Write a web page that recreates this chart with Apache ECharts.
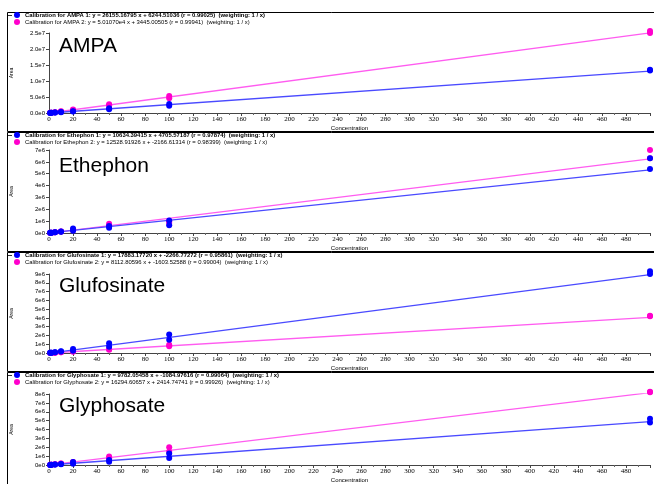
<!DOCTYPE html>
<html>
<head>
<meta charset="utf-8">
<style>
  html, body { margin: 0; padding: 0; background: #fff; }
  #chart-container { width: 654px; height: 484px; }
</style>
<script src="https://cdn.jsdelivr.net/npm/echarts@6/dist/echarts.min.js"></script>
</head>
<body>
<div id="chart-container"></div>
<script>
// concentration levels (x) and fit line ends
var levels = [1, 2, 5, 10, 20, 50, 100, 500];
var fitX = [0, 500];
var compounds = ['AMPA', 'Ethephon', 'Glufosinate', 'Glyphosate'];

var legend1 = [
  'Calibration for AMPA 1: y = 26155.16795 x + 6244.51036 (r = 0.99025)  (weighting: 1 / x)',
  'Calibration for Ethephon 1: y = 10634.39415 x + 4705.57187 (r = 0.97874)  (weighting: 1 / x)',
  'Calibration for Glufosinate 1: y = 17883.17720 x + -2266.77272 (r = 0.95861)  (weighting: 1 / x)',
  'Calibration for Glyphosate 1: y = 9782.05458 x + -1084.97616 (r = 0.99064)  (weighting: 1 / x)'
];
var legend2 = [
  'Calibration for AMPA 2: y = 5.01070e4 x + 3445.00505 (r = 0.99941)  (weighting: 1 / x)',
  'Calibration for Ethephon 2: y = 12528.91926 x + -2166.61314 (r = 0.98399)  (weighting: 1 / x)',
  'Calibration for Glufosinate 2: y = 8112.80596 x + -1603.52588 (r = 0.99004)  (weighting: 1 / x)',
  'Calibration for Glyphosate 2: y = 16294.60657 x + 2414.74741 (r = 0.99926)  (weighting: 1 / x)'
];

// replicate responses per level
var ampa1 = [[2.6e4, 3.4e4], [5.5e4, 6.0e4], [1.3e5, 1.4e5], [2.6e5, 2.9e5], [4.6e5, 5.6e5], [1.2e6, 1.45e6], [2.3e6, 2.8e6], [1.33e7, 1.35e7]];
var ampa2 = [[5.0e4, 5.6e4], [1.0e5, 1.1e5], [2.5e5, 2.7e5], [5.0e5, 5.4e5], [9.5e5, 1.1e6], [2.4e6, 2.7e6], [4.6e6, 5.3e6], [2.5e7, 2.56e7]];
var ethephon1 = [[1.2e4, 1.4e4], [2.3e4, 2.6e4], [5.5e4, 6.0e4], [1.1e5, 1.2e5], [2.0e5, 3.8e5], [4.5e5, 6.0e5], [6.5e5, 1.05e6], [5.4e6, 6.3e6]];
var ethephon2 = [[1.0e4, 1.2e4], [2.2e4, 2.5e4], [6.0e4, 6.4e4], [1.2e5, 1.3e5], [2.4e5, 3.0e5], [6.2e5, 7.8e5], [8.5e5, 1.0e6], [6.3e6, 7.0e6]];
var glufosinate1 = [[1.5e4, 1.8e4], [3.2e4, 3.6e4], [8.5e4, 9.0e4], [1.7e5, 1.9e5], [2.6e5, 4.6e5], [7.0e5, 1.1e6], [1.5e6, 2.1e6], [9.0e6, 9.3e6]];
var glufosinate2 = [[6.0e3, 7.0e3], [1.4e4, 1.6e4], [3.8e4, 4.0e4], [7.8e4, 8.2e4], [1.5e5, 2.0e5], [3.6e5, 4.4e5], [7.8e5, 9.4e5], [4.2e6, 4.25e6]];
var glyphosate1 = [[8.0e3, 9.5e3], [1.8e4, 2.0e4], [4.6e4, 5.0e4], [9.5e4, 1.0e5], [1.3e5, 3.3e5], [3.6e5, 5.6e5], [8.0e5, 1.3e6], [4.8e6, 5.2e6]];
var glyphosate2 = [[1.8e4, 2.0e4], [3.5e4, 3.8e4], [8.5e4, 9.0e4], [1.6e5, 1.7e5], [2.8e5, 3.4e5], [7.5e5, 9.5e5], [1.5e6, 2.0e6], [8.2e6, 8.25e6]];

// fitted line values at x = 0 and x = 500
var ampaFit1 = [6244, 1.308e7];
var ampaFit2 = [3445, 2.505e7];
var ethephonFit1 = [4706, 5.32e6];
var ethephonFit2 = [-2167, 6.26e6];
var glufosinateFit1 = [-2267, 8.94e6];
var glufosinateFit2 = [-1604, 4.055e6];
var glyphosateFit1 = [-1085, 4.89e6];
var glyphosateFit2 = [2415, 8.15e6];

var yMax = [2.5e7, 7e6, 9e6, 8e6];
var yStep = [5e6, 1e6, 1e6, 1e6];
var yDigits = [1, 0, 0, 0];

var set1 = [ampa1, ethephon1, glufosinate1, glyphosate1];
var set2 = [ampa2, ethephon2, glufosinate2, glyphosate2];
var fits1 = [ampaFit1, ethephonFit1, glufosinateFit1, glyphosateFit1];
var fits2 = [ampaFit2, ethephonFit2, glufosinateFit2, glyphosateFit2];

// layout
var gridTop = [33, 150, 274, 394];
var gridHeight = [80, 83, 79, 79];
var blue = '#0000ff';
var blueLine = '#4a4aff';
var pink = '#ff00cc';
var pinkLine = '#ff5cf0';

var dom = document.getElementById('chart-container');
var myChart = echarts.init(dom, null, {
  renderer: 'canvas',
  useDirtyRect: false
});

function points(reps) {
  var out = [];
  reps.forEach(function (vals, i) {
    vals.forEach(function (v) {
      out.push([levels[i], v]);
    });
  });
  return out;
}

function fitLine(f) {
  return fitX.map(function (x, i) { return [x, f[i]]; });
}

var grids = [], xAxes = [], yAxes = [], series = [], legends = [], titles = [], graphics = [];

compounds.forEach(function (name, k) {
  grids.push({ left: 49, right: 4, top: gridTop[k], height: gridHeight[k] });
  xAxes.push({
    gridIndex: k,
    type: 'value',
    min: 0,
    max: 500,
    interval: 20,
    name: 'Concentration',
    nameLocation: 'middle',
    nameGap: 12,
    nameTextStyle: { fontSize: 6, color: '#000', fontFamily: 'Liberation Sans' },
    axisLine: { lineStyle: { color: '#444', width: 1 } },
    axisTick: { length: 3, lineStyle: { color: '#444' } },
    minorTick: { show: true, splitNumber: 2, length: 2, lineStyle: { color: '#666' } },
    axisLabel: { fontSize: 7, fontFamily: 'Liberation Serif', color: '#000', margin: 3, showMaxLabel: false },
    splitLine: { show: false }
  });
  yAxes.push({
    gridIndex: k,
    type: 'value',
    min: 0,
    max: yMax[k],
    interval: yStep[k],
    name: 'Area',
    nameLocation: 'middle',
    nameRotate: 90,
    nameGap: 35,
    nameTextStyle: { fontSize: 5, color: '#000', fontFamily: 'Liberation Sans' },
    axisLine: { show: true, lineStyle: { color: '#444', width: 1 } },
    axisTick: { show: true, length: 3, lineStyle: { color: '#444' } },
    axisLabel: {
      fontSize: 6,
      fontFamily: 'Liberation Sans',
      color: '#000',
      margin: 4,
      formatter: function (v) { return v.toExponential(yDigits[k]).replace('+', ''); }
    },
    splitLine: { show: false }
  });

  series.push({
    name: legend2[k], type: 'line', xAxisIndex: k, yAxisIndex: k,
    data: fitLine(fits2[k]), showSymbol: false, silent: true, z: 1,
    lineStyle: { color: pinkLine, width: 1.3 }, itemStyle: { color: pink }
  });
  series.push({
    name: legend1[k], type: 'line', xAxisIndex: k, yAxisIndex: k,
    data: fitLine(fits1[k]), showSymbol: false, silent: true, z: 1,
    lineStyle: { color: blueLine, width: 1.3 }, itemStyle: { color: blue }
  });
  series.push({
    name: legend2[k], type: 'scatter', xAxisIndex: k, yAxisIndex: k,
    data: points(set2[k]), symbolSize: 6, clip: false, z: 3,
    itemStyle: { color: pink, opacity: 1 }
  });
  series.push({
    name: legend1[k], type: 'scatter', xAxisIndex: k, yAxisIndex: k,
    data: points(set1[k]), symbolSize: 6, clip: false, z: 4,
    itemStyle: { color: blue, opacity: 1 }
  });

  legends.push({
    data: [legend1[k], legend2[k]],
    orient: 'vertical',
    left: 14,
    top: 12 + 120 * k,
    padding: 0,
    itemGap: 1,
    itemWidth: 6,
    itemHeight: 6,
    icon: 'circle',
    selectedMode: false,
    formatter: function (n) { return n === legend1[k] ? '{b|' + n + '}' : n; },
    textStyle: {
      fontSize: 5.9,
      fontFamily: 'Liberation Sans',
      color: '#000',
      rich: { b: { fontSize: 5.9, fontWeight: 'bold', fontFamily: 'Liberation Sans', color: '#000' } }
    }
  });

  titles.push({
    text: name,
    left: 59,
    top: 36 + 120 * k,
    padding: 0,
    textStyle: { fontSize: 21, fontWeight: 'normal', fontFamily: 'Liberation Sans', color: '#000' }
  });

  // panel frame and collapse box
  graphics.push({
    type: 'rect', silent: true, z: -1,
    shape: { x: 7.5, y: 12.5 + 120 * k, width: 700, height: 119 },
    style: { fill: 'none', stroke: '#000', lineWidth: 1 }
  });
  graphics.push({
    type: 'line', silent: true,
    shape: { x1: 8, y1: 15.5 + 120 * k, x2: 12, y2: 15.5 + 120 * k },
    style: { stroke: '#333', lineWidth: 1 }
  });
});

var option = {
  animation: false,
  title: titles,
  legend: legends,
  grid: grids,
  xAxis: xAxes,
  yAxis: yAxes,
  series: series,
  graphic: graphics
};

if (option && typeof option === 'object') {
  myChart.setOption(option);
}

window.addEventListener('resize', myChart.resize);
</script>
</body>
</html>
